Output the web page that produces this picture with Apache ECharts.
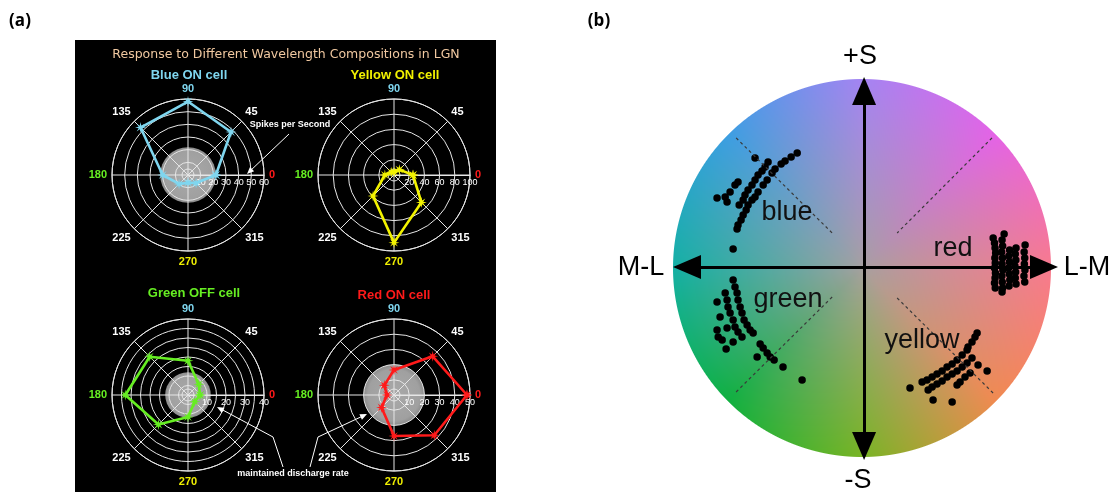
<!DOCTYPE html>
<html>
<head>
<meta charset="utf-8">
<script src="https://cdn.jsdelivr.net/npm/echarts@6/dist/echarts.min.js"></script>
<style>
html, body { margin: 0; padding: 0; background: #fff; }
#main { width: 1116px; height: 492px; }
</style>
</head>
<body>
<div id="main"></div>
<script>
// ---- data, panel (a): LGN cell responses (spikes/s) per stimulus angle
const angles = [0, 45, 90, 135, 180, 225, 270, 315];
const cellNames = ["Blue ON cell", "Yellow ON cell", "Green OFF cell", "Red ON cell"];
const blueOn = [22, 48, 58, 53, 20, 10, 6, 9];
const yellowOn = [25, 10, 4, 5, 12, 39, 89, 51];
const greenOff = [6.3, 8, 18, 28.5, 33, 22, 11.6, 5];
const redOn = [48, 36, 16.5, 9, 4.6, 11.6, 27, 37.5];
const maintained = [22, 0, 12, 20];
const radiusMax = [60, 100, 40, 50];
const radiusStep = [10, 20, 5, 10];
const radiusLabelStep = [10, 20, 10, 10];

// ---- data, panel (b): cone-contrast space, circle radius = 100
const axisNames = ["+S", "-S", "M-L", "L-M"];
const clusterNames = ["blue", "red", "green", "yellow"];
const blueDots = [
    [-35.4, 60.3], [-38.6, 58.2], [-41.8, 56.1], [-43.9, 54.5], [-47.1, 51.9], [-48.7, 49.7], [-51.3, 46.0], [-53.4, 43.4], [-56.1, 39.7], [-57.7, 37.0],
    [-50.8, 55.6], [-52.4, 52.9], [-54.0, 50.8], [-56.1, 48.7], [-57.7, 46.0], [-59.3, 43.4], [-61.4, 40.7], [-63.0, 38.1], [-64.0, 35.4], [-66.1, 32.8],
    [-59.3, 35.4], [-61.4, 32.8], [-62.4, 30.2], [-64.0, 27.5], [-65.1, 24.9], [-66.7, 22.2], [-67.2, 20.1],
    [-66.7, 45.0], [-68.3, 43.4], [-70.9, 39.7], [-73.5, 37.0], [-77.8, 36.5], [-72.5, 34.4],
    [-57.7, 57.7], [-69.3, 9.5]
];
const redDots = [
    [68.3, 15.3], [69.0, 12.7], [69.3, 10.1], [69.6, 7.4], [69.2, 4.8], [69.4, 2.1], [69.0, -0.5], [69.5, -3.2], [69.3, -5.8], [69.0, -8.5], [69.4, -11.1],
    [74.1, 17.5], [73.0, 14.3], [73.3, 11.1], [72.8, 7.9], [73.2, 4.8], [73.0, 1.6], [73.4, -1.6], [72.9, -4.8], [73.1, -7.9], [73.3, -11.1], [73.0, -13.2],
    [77.0, 9.0], [76.6, 5.8], [76.9, 2.6], [76.5, -0.5], [76.8, -3.7], [77.1, -6.9], [76.7, -10.1],
    [80.4, 10.1], [80.0, 6.9], [80.3, 3.7], [79.8, 0.5], [80.2, -2.6], [80.0, -5.8], [80.4, -9.0],
    [85.2, 11.6], [84.7, 7.9], [85.0, 4.8], [84.8, 1.6], [85.1, -1.6], [84.6, -4.8], [85.0, -7.9]
];
const greenDots = [
    [-69.3, -6.9], [-68.3, -10.6], [-67.2, -13.8], [-66.7, -17.5], [-65.6, -21.2], [-64.6, -24.3], [-63.5, -28.0], [-61.9, -30.7], [-60.3, -33.3], [-58.7, -34.9],
    [-73.5, -13.8], [-72.5, -17.5], [-72.0, -21.2], [-70.9, -24.3], [-69.3, -28.0], [-68.3, -31.7], [-66.7, -34.4], [-64.6, -37.0],
    [-77.8, -18.5], [-76.2, -26.5], [-77.8, -33.3], [-77.2, -37.0], [-75.1, -38.6], [-72.5, -32.3], [-69.3, -39.7], [-73.0, -43.4],
    [-55.0, -40.7], [-53.4, -42.9], [-51.3, -45.5], [-49.7, -47.6], [-47.6, -49.2], [-42.9, -52.9], [-56.6, -47.6], [-32.8, -59.8]
];
const yellowDots = [
    [59.8, -34.9], [58.7, -37.0], [57.1, -39.7], [55.0, -42.3],
    [54.5, -43.9], [51.9, -46.6], [49.2, -49.2], [46.6, -51.3], [43.9, -52.9], [41.3, -55.0], [38.6, -56.6], [36.0, -58.2], [33.3, -59.8], [30.7, -60.8],
    [57.1, -48.1], [54.5, -50.8], [51.9, -52.9], [49.2, -55.0], [46.6, -56.6], [43.9, -58.2], [41.3, -60.3], [38.6, -61.9], [36.0, -63.5], [33.9, -65.1],
    [56.1, -56.1], [53.4, -58.2], [50.8, -60.8], [49.2, -62.4],
    [60.3, -51.9], [65.1, -55.0], [24.3, -64.0], [36.5, -70.4], [46.6, -71.4]
];
const diagonals = [
    [[-67.7, 68.3], [-16.9, 18.0]],
    [[67.7, 68.3], [17.5, 18.0]],
    [[-16.9, -15.9], [-68.3, -66.7]],
    [[17.5, -16.4], [68.3, -66.7]]
];

// ---- look
const cellValues = [blueOn, yellowOn, greenOff, redOn];
const cellColors = ["#7fd6ef", "#f2f200", "#66ee22", "#ff1a1a"];
const polarCenters = [[188, 175], [394, 175], [188, 395], [394, 395]];
const titlePos = [[189, 75], [395, 75], [194, 293], [394, 295]];
const SANS = "Liberation Sans, Arial, sans-serif";
const STAR = "path://M5,0L1.66,-0.69L3.54,-3.54L0.69,-1.66L0,-5L-0.69,-1.66L-3.54,-3.54L-1.66,-0.69L-5,0L-1.66,0.69L-3.54,3.54L-0.69,1.66L0,5L0.69,1.66L3.54,3.54L1.66,0.69Z";
const GRID_COL = "#e6e6e6";

const angleRich = {};
angles.forEach(function (a)
{
    let col = "#ffffff";
    if (a === 0) col = "#ff1a1a";
    if (a === 90) col = "#7fd6ef";
    if (a === 180) col = "#66ee22";
    if (a === 270) col = "#eeee00";
    angleRich["a" + a] = { color: col, fontFamily: SANS, fontWeight: "bold", fontSize: 11 };
});

// colour wheel behind panel (b)
function makeWheel(size)
{
    const hues = [
        [248, 122, 142], [228, 99, 230], [164, 132, 242], [61, 158, 226],
        [20, 176, 164], [16, 176, 64], [120, 180, 36], [240, 138, 80]
    ];
    const grey = [166, 160, 160];
    const c = document.createElement("canvas");
    c.width = size;
    c.height = size;
    const ctx = c.getContext("2d");
    const img = ctx.createImageData(size, size);
    const R = size / 2;
    for (let y = 0; y < size; y++)
    {
        for (let x = 0; x < size; x++)
        {
            const dx = x + 0.5 - R;
            const dy = R - (y + 0.5);
            const r = Math.sqrt(dx * dx + dy * dy);
            const alpha = Math.max(0, Math.min(1, R - r + 0.5));
            if (alpha <= 0) continue;
            let ang = Math.atan2(dy, dx) * 180 / Math.PI;
            if (ang < 0) ang += 360;
            const k = Math.floor(ang / 45) % 8;
            const f = ang / 45 - Math.floor(ang / 45);
            const c0 = hues[k];
            const c1 = hues[(k + 1) % 8];
            const t = Math.pow(Math.min(1, r / R), 0.85);
            const i = (y * size + x) * 4;
            for (let ch = 0; ch < 3; ch++)
            {
                const h = c0[ch] * (1 - f) + c1[ch] * f;
                img.data[i + ch] = Math.round(h * t + grey[ch] * (1 - t));
            }
            img.data[i + 3] = Math.round(alpha * 255);
        }
    }
    ctx.putImageData(img, 0, 0);
    return c;
}

function renderDisk(params, api)
{
    const cs = params.coordSys;
    const p = api.coord([api.value(0), 0]);
    const r = Math.sqrt(Math.pow(p[0] - cs.cx, 2) + Math.pow(p[1] - cs.cy, 2));
    const children = [];
    if (api.value(0) > 0)
    {
        children.push({
            type: "circle",
            shape: { cx: cs.cx, cy: cs.cy, r: r },
            style: {
                fill: {
                    type: "radial", x: 0.5, y: 0.5, r: 0.5,
                    colorStops: [
                        { offset: 0, color: "#a9a9a9" },
                        { offset: 0.85, color: "#a0a0a0" },
                        { offset: 1, color: "#8c8c8c" }
                    ]
                }
            }
        });
    }
    children.push({
        type: "circle",
        shape: { cx: cs.cx, cy: cs.cy, r: 6 },
        style: { fill: "none", stroke: GRID_COL, lineWidth: 1 }
    });
    return { type: "group", children: children };
}

function arrowHead(tip, from, len, w)
{
    const dx = tip[0] - from[0];
    const dy = tip[1] - from[1];
    const d = Math.sqrt(dx * dx + dy * dy);
    const ux = dx / d, uy = dy / d;
    const bx = tip[0] - ux * len, by = tip[1] - uy * len;
    return [tip, [bx - uy * w, by + ux * w], [bx + uy * w, by - ux * w]];
}

function text(x, y, str, font, fill, align)
{
    return {
        type: "text", x: x, y: y, z: 5,
        style: { text: str, font: font, fill: fill, align: align || "center", verticalAlign: "middle" }
    };
}

// ---- build options
const polar = [];
const angleAxis = [];
const radiusAxis = [];
const series = [];

cellNames.forEach(function (name, i)
{
    polar.push({ center: polarCenters[i], radius: 76 });
    angleAxis.push({
        polarIndex: i, type: "value", min: 0, max: 360, interval: 45,
        startAngle: 0, clockwise: false,
        axisLine: { lineStyle: { color: GRID_COL, width: 1 } },
        axisTick: { show: false },
        splitLine: { show: true, lineStyle: { color: GRID_COL, width: 1 } },
        axisLabel: {
            margin: 5,
            formatter: function (v) { return v === 360 ? "" : "{a" + v + "|" + v + "}"; },
            rich: angleRich
        }
    });
    radiusAxis.push({
        polarIndex: i, type: "value", min: 0, max: radiusMax[i], interval: radiusStep[i],
        axisLine: { show: true, lineStyle: { color: GRID_COL, width: 1 } },
        axisTick: { show: false },
        splitLine: { show: true, lineStyle: { color: GRID_COL, width: 1 } },
        axisLabel: {
            color: "#ffffff", fontFamily: SANS, fontSize: 9, margin: -3, verticalAlign: "top",
            formatter: function (v) { return (v > 0 && v % radiusLabelStep[i] === 0) ? String(v) : ""; }
        }
    });

    series.push({
        type: "custom", coordinateSystem: "polar", polarIndex: i, z: -1, silent: true,
        data: [[maintained[i], 0]], renderItem: renderDisk
    });

    const vals = cellValues[i];
    const pts = angles.map(function (a, k) { return [vals[k], a]; });
    pts.push([vals[0], 360]);
    series.push({
        type: "line", coordinateSystem: "polar", polarIndex: i, name: name,
        data: pts, symbol: STAR, symbolSize: 11, silent: true,
        lineStyle: { color: cellColors[i], width: 2.6 },
        itemStyle: { color: cellColors[i] }
    });
});

// panel (b)
diagonals.forEach(function (seg)
{
    series.push({
        type: "line", xAxisIndex: 0, yAxisIndex: 0, data: seg, symbol: "none", silent: true,
        lineStyle: { color: "#3a3a3a", width: 1.2, type: [3, 3] }
    });
});
[blueDots, redDots, greenDots, yellowDots].forEach(function (d, i)
{
    series.push({
        type: "scatter", name: clusterNames[i], data: d, symbolSize: 7.5, silent: true,
        itemStyle: { color: "#000000", opacity: 1 }
    });
});

const graphic = [
    { type: "rect", z: -10, shape: { x: 75, y: 40, width: 421, height: 452 }, style: { fill: "#000000" } },
    { type: "image", z: -10, style: { image: makeWheel(378), x: 673, y: 79, width: 378, height: 378 } },
    text(20, 21, "(a)", "bold 17px 'Open Sans', sans-serif", "#000"),
    text(599, 21, "(b)", "bold 17px 'Open Sans', sans-serif", "#000"),
    text(286, 55, "Response to Different Wavelength Compositions in LGN", "12.5px 'DejaVu Sans', sans-serif", "#f0c8a0"),
    text(290, 125, "Spikes per Second", "bold 9px " + SANS, "#ffffff"),
    text(293, 474, "maintained discharge rate", "bold 9px " + SANS, "#ffffff"),
    // annotation leaders
    { type: "polyline", z: 5, shape: { points: [[289, 134], [249, 172]] }, style: { stroke: "#fff", lineWidth: 1 } },
    { type: "polygon", z: 5, shape: { points: arrowHead([247, 174], [289, 134], 7, 3) }, style: { fill: "#fff" } },
    { type: "polyline", z: 5, shape: { points: [[283, 467], [273, 437], [219, 408]] }, style: { stroke: "#fff", lineWidth: 1, fill: null } },
    { type: "polygon", z: 5, shape: { points: arrowHead([217, 407], [273, 437], 7, 3) }, style: { fill: "#fff" } },
    { type: "polyline", z: 5, shape: { points: [[310, 467], [318, 437], [365, 415]] }, style: { stroke: "#fff", lineWidth: 1, fill: null } },
    { type: "polygon", z: 5, shape: { points: arrowHead([367, 414], [318, 437], 7, 3) }, style: { fill: "#fff" } },
    text(860, 57, axisNames[0], "27px " + SANS, "#000"),
    text(858, 481, axisNames[1], "27px " + SANS, "#000"),
    text(641, 268, axisNames[2], "27px " + SANS, "#000"),
    text(1087, 268, axisNames[3], "27px " + SANS, "#000"),
    text(787, 213, clusterNames[0], "27px " + SANS, "#111"),
    text(953, 249, clusterNames[1], "27px " + SANS, "#111"),
    text(788, 300, clusterNames[2], "27px " + SANS, "#111"),
    text(922, 341, clusterNames[3], "27px " + SANS, "#111")
];
cellNames.forEach(function (name, i)
{
    graphic.push(text(titlePos[i][0], titlePos[i][1], name, "bold 13px " + SANS, cellColors[i]));
});

const bAxis = {
    type: "value",
    axisLine: { onZero: true, symbol: ["triangle", "triangle"], symbolSize: [24, 28], lineStyle: { color: "#000", width: 3 } },
    axisTick: { show: false }, axisLabel: { show: false }, splitLine: { show: false }
};

const option = {
    backgroundColor: "#ffffff",
    animation: false,
    polar: polar,
    angleAxis: angleAxis,
    radiusAxis: radiusAxis,
    grid: { left: 687, top: 91, width: 357, height: 355 },
    xAxis: Object.assign({ min: -93.7, max: 95.2 }, bAxis),
    yAxis: Object.assign({ min: -94.7, max: 93.1 }, bAxis),
    graphic: graphic,
    series: series
};

const chart = echarts.init(document.getElementById("main"), null, { renderer: "canvas" });
chart.setOption(option);
</script>
</body>
</html>
